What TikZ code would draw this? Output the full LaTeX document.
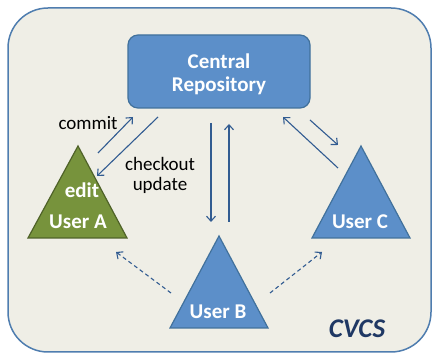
\documentclass[tikz,border=0pt]{standalone}
\usepackage{fontspec}
\setmainfont{Carlito}
\usetikzlibrary{arrows.meta}
\definecolor{panelfill}{RGB}{239,238,230}
\definecolor{panelline}{RGB}{79,125,175}
\definecolor{boxfill}{RGB}{92,143,201}
\definecolor{boxline}{RGB}{65,113,156}
\definecolor{userafill}{RGB}{119,147,60}
\definecolor{usealine}{RGB}{79,98,40}
\definecolor{flowline}{RGB}{50,92,145}
\definecolor{titleblue}{RGB}{31,56,100}
\tikzset{
  x=1pt, y=-1pt,
  repo/.style={draw=boxline, line width=1.2pt, fill=boxfill, rounded corners=10pt},
  userblue/.style={draw=boxline, line width=1.2pt, fill=boxfill, line join=miter},
  usergreen/.style={draw=usealine, line width=1.2pt, fill=userafill, line join=miter},
  whitelabel/.style={text=white, font=\bfseries\fontsize{21}{22}\selectfont, inner sep=0pt},
  plainlabel/.style={text=black, font=\fontsize{19}{20}\selectfont, inner sep=0pt},
  flow/.style={draw=flowline, line width=1.1pt, -{Straight Barb[length=5pt,width=9pt,line width=1.1pt]}},
  dflow/.style={flow, dash pattern=on 4pt off 3pt}
}
\begin{document}
\begin{tikzpicture}
\useasboundingbox (0,0) rectangle (432,355);
% panel
\draw[draw=panelline, line width=1.5pt, fill=panelfill, rounded corners=40pt] (8,8) rectangle (431,352);
% central repository
\draw[repo] (128,35) rectangle (310,108);
\node[whitelabel] (central) at (219,61) {Central};
\node[whitelabel] (repository) at (219,86) {Repository};
% users
\draw[usergreen] (78,146) -- (127,238) -- (28,238) -- cycle;
\draw[userblue] (219,236) -- (268,328) -- (170,328) -- cycle;
\draw[userblue] (361,146) -- (410,238) -- (312,238) -- cycle;
\node[whitelabel] (edit) at (82,190) {edit};
\node[whitelabel] (usera) at (78,222) {User A};
\node[whitelabel] (userb) at (218,312) {User B};
\node[whitelabel] (userc) at (360,222) {User C};
% labels
\node[plainlabel] (commit) at (88,123) {commit};
\node[plainlabel] (checkout) at (160,164) {checkout};
\node[plainlabel] (update) at (160,185) {update};
\node[text=titleblue, font=\bfseries\itshape\fontsize{27}{28}\selectfont, inner sep=0pt] (cvcs) at (357,329) {CVCS};
% arrow end points
\coordinate (a1) at (98,153);  \coordinate (r1) at (133,117);
\coordinate (r2) at (158,117); \coordinate (a2) at (97,176);
\coordinate (r3) at (211,123); \coordinate (b1) at (211,222);
\coordinate (b2) at (229,222); \coordinate (r4) at (229,124);
\coordinate (c1) at (338,168); \coordinate (r5) at (283,117);
\coordinate (r6) at (310,120); \coordinate (c2) at (338,145);
\coordinate (b3) at (171,293); \coordinate (a3) at (116,252);
\coordinate (b4) at (270,293); \coordinate (c3) at (322,252);
% connectors
\draw[flow] (a1) -- (r1);
\draw[flow] (r2) -- (a2);
\draw[flow] (r3) -- (b1);
\draw[flow] (b2) -- (r4);
\draw[flow] (c1) -- (r5);
\draw[flow] (r6) -- (c2);
\draw[dflow] (b3) -- (a3);
\draw[dflow] (b4) -- (c3);
\end{tikzpicture}
\end{document}
